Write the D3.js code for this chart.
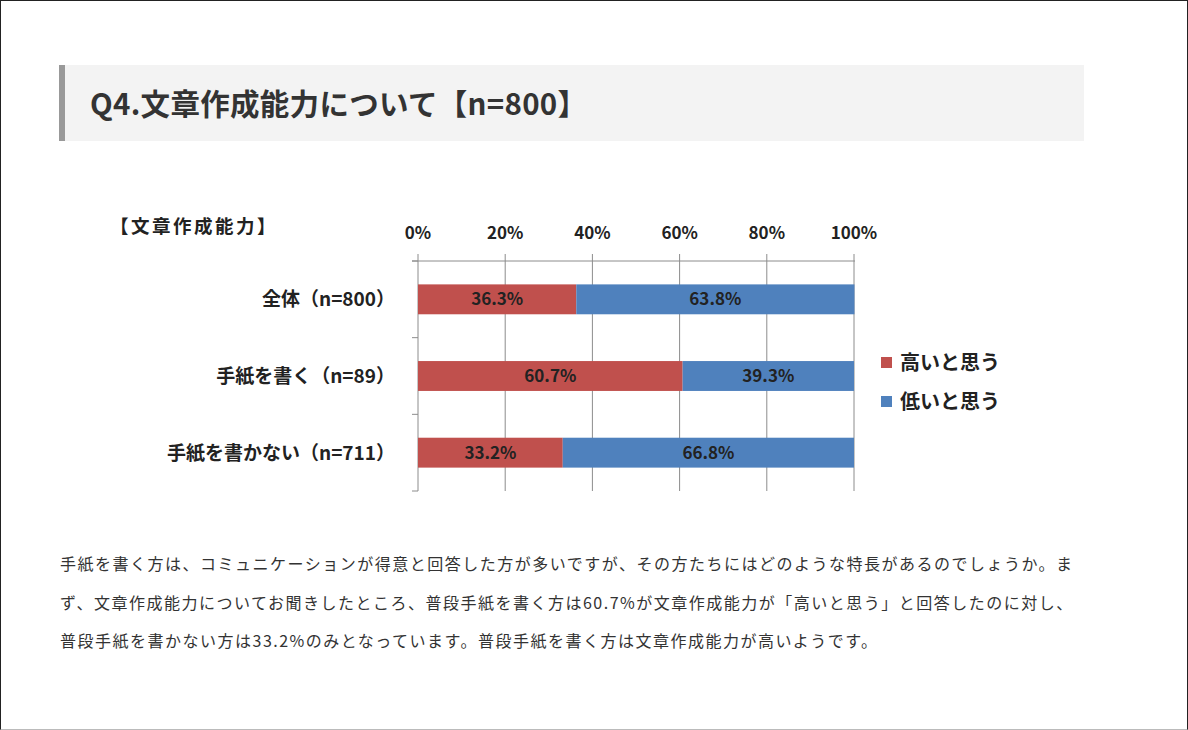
<!DOCTYPE html>
<html lang="ja">
  <head>
    <meta charset="UTF-8" />
    <title>Q4.文章作成能力について</title>
    <style>
      html, body {
        margin: 0;
        padding: 0;
      }
      body {
        width: 1188px;
        height: 730px;
        position: relative;
        overflow: hidden;
        background: #fff;
        font-family: "Noto Sans CJK JP", "Noto Sans", sans-serif;
      }
      #frame {
        position: absolute;
        left: 0;
        top: 0;
        width: 1186px;
        height: 728px;
        border: 1px solid #222;
        border-bottom-color: #bbb;
      }
      #heading {
        position: absolute;
        left: 59px;
        top: 65px;
        width: 1019px;
        height: 76px;
        background: #f3f3f3;
        border-left: 6px solid #999;
      }
      #heading h2 {
        margin: 0;
        position: absolute;
        left: 25px;
        top: 17px;
        font-size: 29.5px;
        font-weight: bold;
        color: #333;
        line-height: 40px;
        letter-spacing: 0.3px;
      }
      #chart {
        position: absolute;
        left: 0;
        top: 0;
      }
      #text {
        position: absolute;
        left: 60px;
        top: 544px;
        margin: 0;
        font-size: 16px;
        letter-spacing: 1.5px;
        line-height: 38.5px;
        color: #333;
        white-space: nowrap;
      }
    </style>
  </head>
  <body>
    <div id="frame"></div>
    <div id="heading"><h2>Q4.文章作成能力について【n=800】</h2></div>
    <svg id="chart" width="1188" height="530"></svg>
    <p id="text">
      手紙を書く方は、コミュニケーションが得意と回答した方が多いですが、その方たちにはどのような特長があるのでしょうか。ま<br />
      ず、文章作成能力についてお聞きしたところ、普段手紙を書く方は60.7%が文章作成能力が「高いと思う」と回答したのに対し、<br />
      普段手紙を書かない方は33.2%のみとなっています。普段手紙を書く方は文章作成能力が高いようです。
    </p>

    <script src="https://d3js.org/d3.v7.min.js"></script>
    <script>
      const categories = ["全体（n=800）", "手紙を書く（n=89）", "手紙を書かない（n=711）"];
      const highValues = [36.3, 60.7, 33.2];
      const lowValues = [63.8, 39.3, 66.8];
      const seriesNames = ["高いと思う", "低いと思う"];
      const colors = ["#c0504d", "#4f81bd"];
      const tickValues = [0, 20, 40, 60, 80, 100];

      const svg = d3.select("#chart");
      const plotLeft = 418,
        plotRight = 854,
        plotTop = 261,
        plotBottom = 491;

      const x = d3.scaleLinear().domain([0, 100]).range([plotLeft, plotRight]);
      const y = d3
        .scaleBand()
        .domain(categories)
        .range([plotTop, plotBottom])
        .paddingInner(0.61)
        .paddingOuter(0.305);

      // gridlines (extend a bit above the axis, like tick marks)
      svg
        .selectAll(".grid")
        .data(tickValues)
        .enter()
        .append("line")
        .attr("x1", (d) => x(d))
        .attr("x2", (d) => x(d))
        .attr("y1", plotTop - 7)
        .attr("y2", plotBottom)
        .style("stroke", "#8c8c8c")
        .style("stroke-width", 1);

      // top axis line
      svg
        .append("line")
        .attr("x1", plotLeft - 6)
        .attr("x2", plotRight + 1)
        .attr("y1", plotTop)
        .attr("y2", plotTop)
        .style("stroke", "#8c8c8c");

      // category separators on the vertical axis
      const sep = [];
      for (let i = 0; i <= categories.length; i++) {
        sep.push(plotTop + (i * (plotBottom - plotTop)) / categories.length);
      }
      svg
        .selectAll(".ytick")
        .data(sep)
        .enter()
        .append("line")
        .attr("x1", plotLeft - 6)
        .attr("x2", plotLeft)
        .attr("y1", (d) => d)
        .attr("y2", (d) => d)
        .style("stroke", "#8c8c8c");

      // tick labels on top
      svg
        .selectAll(".xlabel")
        .data(tickValues)
        .enter()
        .append("text")
        .attr("x", (d) => x(d))
        .attr("y", 239)
        .attr("text-anchor", "middle")
        .style("font-size", "17px")
        .style("font-weight", "bold")
        .style("fill", "#222")
        .text((d) => d + "%");

      // chart title label
      svg
        .append("text")
        .attr("x", 110)
        .attr("y", 233)
        .style("font-size", "18.5px")
        .style("font-weight", "bold")
        .style("letter-spacing", "2.5px")
        .style("fill", "#222")
        .text("【文章作成能力】");

      // category labels
      svg
        .selectAll(".cat")
        .data(categories)
        .enter()
        .append("text")
        .attr("x", 395)
        .attr("y", (d) => y(d) + y.bandwidth() / 2 + 7)
        .attr("text-anchor", "end")
        .style("font-size", "19px")
        .style("font-weight", "bold")
        .style("fill", "#222")
        .text((d) => d);

      // stacked bars
      const rows = categories.map((c, i) => ({
        cat: c,
        segs: [
          { s: 0, v: highValues[i], x0: 0, x1: highValues[i] },
          { s: 1, v: lowValues[i], x0: highValues[i], x1: highValues[i] + lowValues[i] },
        ],
      }));

      const g = svg
        .selectAll(".row")
        .data(rows)
        .enter()
        .append("g")
        .attr("transform", (d) => `translate(0,${y(d.cat)})`);

      g.selectAll("rect")
        .data((d) => d.segs)
        .enter()
        .append("rect")
        .attr("x", (d) => x(d.x0))
        .attr("width", (d) => x(d.x1) - x(d.x0))
        .attr("height", y.bandwidth())
        .style("fill", (d) => colors[d.s]);

      g.selectAll("text")
        .data((d) => d.segs)
        .enter()
        .append("text")
        .attr("x", (d) => (x(d.x0) + x(d.x1)) / 2)
        .attr("y", y.bandwidth() / 2 + 6)
        .attr("text-anchor", "middle")
        .style("font-size", "17px")
        .style("font-weight", "bold")
        .style("fill", "#222")
        .text((d) => d.v.toFixed(1) + "%");

      // legend
      const legend = svg
        .selectAll(".legend")
        .data(seriesNames)
        .enter()
        .append("g")
        .attr("transform", (d, i) => `translate(881,${357 + i * 39})`);

      legend
        .append("rect")
        .attr("width", 11)
        .attr("height", 11)
        .style("fill", (d, i) => colors[i]);

      legend
        .append("text")
        .attr("x", 19)
        .attr("y", 12.5)
        .style("font-size", "20px")
        .style("font-weight", "bold")
        .style("fill", "#222")
        .text((d) => d);
    </script>
  </body>
</html>
